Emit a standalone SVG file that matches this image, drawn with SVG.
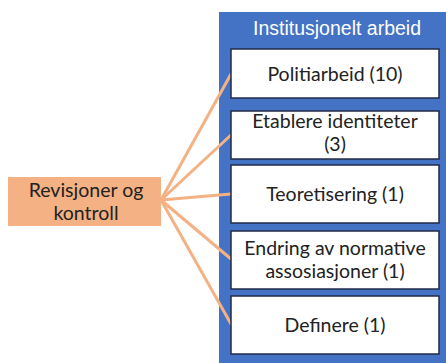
<svg xmlns="http://www.w3.org/2000/svg" width="446" height="363" viewBox="0 0 446 363">
  <style>
    .panel { fill: #4472C4; }
    .item rect { fill: #FFFFFF; stroke: #1F2B46; stroke-width: 1.5; }
    .src rect { fill: #F4B183; }
    .lbl { font-family: Lato, "Open Sans", sans-serif; font-size: 19.5px; fill: #222222; text-anchor: middle; }
    .title { font-family: "Liberation Sans", Arial, sans-serif; font-size: 19.5px; fill: #FFFFFF; text-anchor: middle; }
    .link { stroke: #F4B183; stroke-width: 3; fill: none; stroke-linecap: round; }
  </style>
  <rect width="446" height="363" fill="#FFFFFF"/>

  <!-- container -->
  <g id="institusjonelt-arbeid">
    <rect class="panel" x="219" y="12" width="228" height="352"/>
    <text class="title" x="337" y="35">Institusjonelt arbeid</text>
  </g>

  <!-- connectors -->
  <g id="connectors">
    <line class="link" x1="161" y1="200" x2="231" y2="74"/>
    <line class="link" x1="161" y1="200" x2="231" y2="135"/>
    <line class="link" x1="161" y1="200" x2="231" y2="194"/>
    <line class="link" x1="161" y1="200" x2="231" y2="259"/>
    <line class="link" x1="161" y1="200" x2="231" y2="324"/>
  </g>

  <g id="revisjoner-og-kontroll" class="src">
    <rect x="8" y="177" width="153" height="49"/>
    <text class="lbl" x="86" y="197">Revisjoner og</text>
    <text class="lbl" x="86" y="220">kontroll</text>
  </g>

  <g id="politiarbeid" class="item">
    <rect x="231" y="49" width="208" height="49"/>
    <text class="lbl" x="335" y="81">Politiarbeid (10)</text>
  </g>

  <g id="etablere-identiteter" class="item">
    <rect x="231" y="111" width="208" height="48"/>
    <text class="lbl" x="335" y="128">Etablere identiteter</text>
    <text class="lbl" x="335" y="151">(3)</text>
  </g>

  <g id="teoretisering" class="item">
    <rect x="231" y="165" width="208" height="58"/>
    <text class="lbl" x="335" y="201">Teoretisering (1)</text>
  </g>

  <g id="endring" class="item">
    <rect x="231" y="231" width="208" height="58"/>
    <text class="lbl" x="335" y="255">Endring av normative</text>
    <text class="lbl" x="335" y="278">assosiasjoner (1)</text>
  </g>

  <g id="definere" class="item">
    <rect x="231" y="296" width="208" height="58"/>
    <text class="lbl" x="335" y="332">Definere (1)</text>
  </g>
</svg>
